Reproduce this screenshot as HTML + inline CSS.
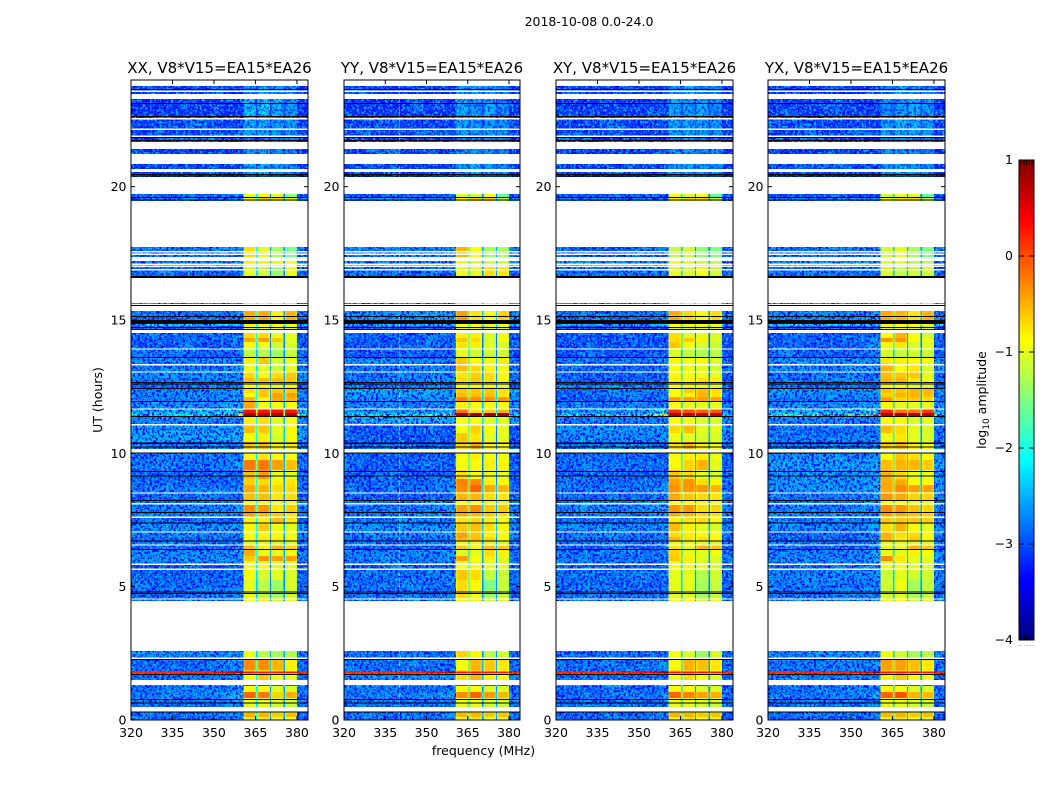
<!DOCTYPE html>
<html>
<head>
<meta charset="utf-8">
<title>2018-10-08 0.0-24.0</title>
<style>
html,body{margin:0;padding:0;background:#fff;}
svg{display:block;}
text{font-family:"DejaVu Sans","Liberation Sans",sans-serif;font-size:12.5px;fill:#000;}
</style>
</head>
<body>
<svg id="chart" xmlns="http://www.w3.org/2000/svg" width="1050" height="800" viewBox="0 0 1050 800">
<defs>
<filter id="speckle-dark" x="0" y="0" width="100%" height="100%" color-interpolation-filters="sRGB">
<feTurbulence type="fractalNoise" baseFrequency="0.42" numOctaves="2" seed="3"/>
<feColorMatrix type="matrix" values="0 0 0 0 0  0 0 0 0 0.02  0 0 0 0 1  7 0 0 0 -3.2"/>
</filter>
<filter id="speckle-light" x="0" y="0" width="100%" height="100%" color-interpolation-filters="sRGB">
<feTurbulence type="fractalNoise" baseFrequency="0.42" numOctaves="2" seed="11"/>
<feColorMatrix type="matrix" values="0 0 0 0 0  0 0 0 0 0.72  0 0 0 0 1  0 6 0 0 -3.1"/>
</filter>
<filter id="speckle-patch" x="0" y="0" width="100%" height="100%" color-interpolation-filters="sRGB">
<feTurbulence type="fractalNoise" baseFrequency="0.045 0.07" numOctaves="2" seed="7"/>
<feColorMatrix type="matrix" values="0 0 0 0 0  0 0 0 0 0.85  0 0 0 0 1  0 4 0 0 -2"/>
</filter>
<linearGradient id="jet-gradient" x1="0" y1="1" x2="0" y2="0"></linearGradient>
</defs>
<text x="589" y="26" text-anchor="middle">2018-10-08 0.0-24.0</text>
<text x="483.500" y="755" text-anchor="middle">frequency (MHz)</text>
<text transform="translate(102,400) rotate(-90)" text-anchor="middle">UT (hours)</text>
<text transform="translate(986,400) rotate(-90)" text-anchor="middle">log<tspan font-size="9" dy="3">10</tspan><tspan dy="-3"> amplitude</tspan></text>
</svg>
<script>
const N = null;
// Upper UT edge of each time row (hours); the last row ends at 0.
const utRowTop = [24,23.775,23.475,23.288,22.613,21.863,21.675,21.413,21.225,20.85,
20.663,20.55,20.363,19.725,19.594,19.463,17.738,17.363,17.213,16.95,
16.575,15.638,15.6,15.338,15,14.85,14.775,14.663,14.513,14.325,
14.175,13.95,13.613,13.35,13.088,12.825,12.675,12.45,12.263,12.113,
11.963,11.663,11.513,11.4,11.063,10.763,10.425,10.163,10.013,9.75,
9.375,9.038,8.813,8.55,8.25,8.063,7.8,7.613,7.35,7.088,
6.863,6.713,6.563,6.375,6.15,5.963,5.85,5.663,5.25,4.875,
4.575,4.463,2.588,2.325,2.25,1.875,1.819,1.763,1.725,1.5,
1.313,1.275,1.05,0.825,0.656,0.488,0.319,0.263,0.113];
// log10 amplitude per row: [off-band, band 1, band 2, band 3, band 4]; N = no data.
const xxRows = [
N,[-3,-2.5,-2.4,-2.5,-2.5],N,[-3.05,-2.3,-2.2,-2.4,-2.5],[-2.95,-2.4,-2.4,-2.5,-2.5],[-3.1,-2.7,-2.6,-2.7,-2.7],N,[-3,-2.5,-2.5,-2.6,-2.6],N,[-3,-2.4,-2.4,-2.5,-2.6],
N,[-3,-2.5,-2.4,-2.5,-2.6],N,[-2.8,-1,-.9,-1,-1.4],[-2.5,-.8,-.6,-.7,-1],N,[-2.6,-.7,-1,-1.3,-1.5],N,[-2.6,-.8,-.8,-.8,-.9],[-2.75,-1,-1.1,-1.4,-.95],
N,[-2.4,-.8,-.9,-1,-1.1],N,[-2.65,-.45,-.45,-.85,-.5],[-2.65,-.45,-.45,-.85,-.5],[-2,-.9,-.9,-.9,-.9],[-2.8,-.9,-.9,-.9,-1],N,[-2.75,-.7,-.7,-1,-1],[-2.8,-.45,-.4,-.6,-1],
[-2.8,-.85,-.9,-1.1,-1.05],[-2.7,-1.15,-1.2,-1.3,-1.15],[-2.5,-.8,-.6,-1.05,-.95],[-2.55,-.95,-1,-1.1,-1],[-2.5,-.7,-.9,-.7,-.6],[-2.6,-.55,-.55,-.55,-.6],[-2.7,-.9,-.85,-1,-.85],[-2.5,-.7,-.6,-.6,-.6],[-2.5,-.9,-.6,-.4,-.4],[-2.55,-.5,-.8,-.45,-.5],
[-2.45,-.45,-.9,-.9,-.9],[-2.2,.3,.3,.3,.3],[-1.9,.8,.7,.75,.8],[-2.45,-.8,-.7,-1,-.9],[-2.35,-.55,-.6,-1,-.85],[-2.3,-.85,-.8,-1.05,-.9],[-2.6,-.6,-.55,-.8,-.8],N,[-2.6,-.85,-.75,-.85,-.9],[-2.6,-.2,-.2,-.4,-.55],
[-2.7,-.55,-.4,-.95,-1],[-2.7,-.65,-.7,-.8,-.75],[-2.65,-.45,-.5,-.7,-.7],[-2.75,-.55,-.55,-.75,-.7],[-2.6,-.9,-.9,-1,-1],[-2.55,-.3,-.35,-.75,-.6],[-2.6,-.4,-.5,-.6,-.7],[-2.8,-.8,-.8,-.55,-.75],[-2.45,-.85,-.6,-.95,-1],[-2.5,-.9,-.85,-.85,-.9],
[-2.65,-.85,-.75,-.8,-.85],[-2.55,-1,-1,-1.05,-1.05],[-2.75,-.55,-.8,-.5,-.65],[-2.5,-.45,-.95,-1,-.95],[-2.45,-.6,-.35,-.4,-.4],[-2.55,-.95,-1,-1,-1],[-2.8,-.9,-.9,-1,-1],[-2.7,-.85,-1.05,-1,-1.05],[-2.7,-1,-1.2,-1.35,-1.05],[-2.65,-.95,-1.15,-1.3,-1.1],
[-2.7,-.9,-.8,-1.1,-.95],N,[-2.5,-.95,-1.2,-1.3,-1.25],[-2.7,-.85,-.85,-.6,-.8],[-2.7,-.3,-.3,-.5,-.8],[-2.6,-.6,-.7,-.7,-.85],[.3,.3,.3,.3,.3],[-2.5,-.3,-.3,-.5,-.5],[-2.6,-.85,-.6,-.95,-.95],N,
[-2.2,.3,.3,.35,.3],[-2.65,-.85,-.9,-1.05,-1.05],[-2.6,-.1,-.2,-.65,-.45],[-2.6,-.9,-.9,-1,-1.05],[-2.6,-1,-1,-1.1,-1.15],N,[-2.75,-.9,-.85,-1.05,-1],[-2.65,-.5,-.5,-.6,-.55],[-2.75,-.85,-.8,-.95,-.9]];
const yyRows = [
N,[-3,-2.5,-2.4,-2.5,-2.6],N,[-3.05,-2.4,-2.5,-2.4,-2.6],[-2.95,-2.45,-2.5,-2.5,-2.55],[-3.1,-2.7,-2.6,-2.7,-2.7],N,[-3,-2.55,-2.5,-2.6,-2.6],N,[-3,-2.5,-2.4,-2.5,-2.6],
N,[-3,-2.5,-2.4,-2.5,-2.6],N,[-2.85,-1,-1.1,-.9,-1.6],[-2.5,-.8,-.6,-.6,-1.2],N,[-2.55,-.5,-.9,-1.3,-1.3],N,[-2.5,-.85,-1,-1.1,-1.1],[-2.7,-.95,-1,-.7,-.75],
N,[-2.4,-.7,-.9,-1,-1.1],N,[-2.4,-.4,-.75,-.9,-.65],[-2.4,-.4,-.75,-.9,-.65],[-2.1,-.9,-.9,-.9,-.9],[-2.8,-.9,-.9,-.95,-1],N,[-2.75,-.8,-.8,-1,-.95],[-2.8,-.6,-.7,-1.1,-.9],
[-2.8,-.75,-.8,-1,-1.05],[-2.85,-1,-1.1,-1.1,-1.1],[-2.5,-.6,-.85,-.85,-.8],[-2.6,-.55,-.7,-.8,-.9],[-2.65,-.75,-.65,-.7,-.85],[-2.6,-.7,-.6,-.7,-.9],[-2.7,-.9,-.85,-.9,-1],[-2.3,-.6,-.6,-.6,-.7],[-2.35,-.55,-.55,-.55,-.75],[-2.5,-.25,-.3,-.35,-.35],
[-2.5,-.8,-.9,-.9,-.9],[-2.4,-.2,-.7,-.6,-.5],[-1.9,.85,.85,.85,.85],[-2.2,-.9,-.9,-1,-1],[-2.8,-.9,-.65,-.85,-1],[-2.8,-.6,-.75,-1,-1],[-2.7,-.65,-.45,-.8,-.9],N,[-2.8,-.9,-.8,-.9,-.95],[-2.8,-.9,-.85,-.8,-.85],
[-2.8,-.7,-.9,-.95,-1],[-2.75,-.25,-.3,-.8,-.85],[-2.7,-.3,-.1,-.45,-.5],[-2.8,-.5,-.5,-.7,-.75],[-2.6,-.9,-.9,-1,-1],[-2.6,-.4,-.3,-.6,-.6],[-2.6,-.45,-.5,-.6,-.7],[-2.6,-.75,-.7,-.8,-.9],[-2.4,-.6,-.55,-.7,-.85],[-2.5,-.4,-.6,-.8,-.85],
[-2.7,-.5,-.55,-.65,-.85],[-2.55,-1,-1,-1.05,-1.05],[-2.75,-.6,-.85,-.55,-.6],[-2.55,-1.05,-1,-.7,-.8],[-2.55,-.4,-.9,-.8,-1],[-2.6,-.95,-1,-1,-1],[-2.8,-.9,-.9,-1,-1],[-2.65,-.6,-.7,-1.15,-1.15],[-2.65,-.7,-.85,-1.5,-1.15],[-2.65,-.7,-.9,-1.35,-1.15],
[-2.7,-.8,-.8,-1.1,-1],N,[-2.65,-.65,-.85,-1.2,-1.1],[-2.7,-.85,-.7,-.7,-.85],[-2.65,-.9,-.5,-.6,-.75],[-2.6,-.7,-.6,-.7,-.85],[.3,.3,.3,.3,.3],[-2.5,-.4,-.3,-.5,-.5],[-2.5,-.7,-.5,-.8,-.9],N,
[-2.2,.3,.3,.35,.3],[-2.65,-.85,-.9,-1.05,-1.05],[-2.55,-.3,-.1,-.35,-.5],[-2.6,-.9,-.9,-1,-1.05],[-2.6,-1,-1,-1.1,-1.15],N,[-2.75,-.9,-.85,-1.05,-1],[-2.65,-.5,-.5,-.6,-.55],[-2.75,-.85,-.8,-.95,-.9]];
const xyRows = [
N,[-3,-2.5,-2.4,-2.5,-2.6],N,[-3,-2.4,-2.5,-2.4,-2.6],[-2.95,-2.45,-2.45,-2.5,-2.55],[-3.1,-2.7,-2.6,-2.7,-2.7],N,[-3,-2.55,-2.5,-2.6,-2.6],N,[-3,-2.5,-2.4,-2.5,-2.6],
N,[-3,-2.5,-2.4,-2.5,-2.6],N,[-2.85,-.9,-1,-.9,-1.6],[-2.5,-.8,-.7,-.7,-1.2],N,[-2.75,-1.2,-1.1,-1.4,-1.5],N,[-2.55,-.9,-1,-1.1,-1.2],[-2.7,-1,-1.05,-.9,-1.1],
N,[-2.4,-.85,-.9,-1,-1.1],N,[-2.65,-.45,-.7,-.85,-.7],[-2.65,-.45,-.7,-.85,-.7],[-2.1,-.9,-.9,-.9,-.9],[-2.85,-.9,-.95,-.95,-1],N,[-2.85,-.7,-1,-1,-1.05],[-2.85,-.7,-.6,-.8,-1.05],
[-2.85,-.6,-.9,-1.05,-1.1],[-2.85,-1.05,-1.15,-1.25,-1.2],[-2.6,-.85,-.9,-.85,-1.05],[-2.7,-.9,-.95,-1,-1.1],[-2.75,-.85,-.9,-.95,-1],[-2.8,-.8,-.85,-.7,-.8],[-2.55,-.9,-.9,-.95,-1],[-2.7,-.9,-.65,-.55,-.7],[-2.7,-.85,-.8,-.5,-.75],[-2.8,-.4,-.4,-.4,-.4],
[-2.6,-.9,-1,-1,-1],[-2.4,.15,0,-.1,-.05],[-1.9,.7,.65,.6,.65],[-2.55,-.9,-.9,-1.05,-1.05],[-2.4,-.7,-.55,-1,-1],[-2.5,-.95,-1,-1.05,-1.05],[-2.6,-.7,-.5,-.8,-.9],N,[-2.7,-.9,-.8,-.8,-.95],[-2.65,-.85,-.65,-.5,-1],
[-2.7,-.6,-.7,-1,-1.05],[-2.7,-.4,-.35,-.7,-.85],[-2.65,-.35,-.35,-.35,-.5],[-2.7,-.45,-.6,-.7,-.75],[-2.6,-.9,-.9,-1,-1],[-2.55,-.35,-.35,-.7,-.65],[-2.6,-.45,-.5,-.65,-.7],[-2.7,-.8,-.75,-.7,-.85],[-2.5,-.55,-.8,-1,-1.05],[-2.6,-.7,-.8,-.85,-.9],
[-2.75,-.5,-.75,-.7,-.85],[-2.6,-1,-1,-1.05,-1.05],[-2.8,-.75,-.95,-.5,-.6],[-2.6,-.65,-1,-1,-.9],[-2.6,-.6,-.8,-1,-1.05],[-2.6,-1,-1,-1.05,-1.05],[-2.8,-.95,-.95,-1,-1.05],[-2.65,-1,-1,-1.25,-1.1],[-2.7,-1,-1,-1.3,-1.15],[-2.65,-1,-1,-1.3,-1.15],
[-2.7,-.9,-.85,-1.1,-1],N,[-2.7,-.9,-1.05,-1.35,-1.05],[-2.7,-.85,-.8,-.7,-.85],[-2.7,-.85,-.5,-.55,-.75],[-2.6,-.75,-.65,-.7,-.85],[.3,.3,.3,.3,.3],[-2.5,-.4,-.3,-.5,-.5],[-2.6,-.9,-.7,-.9,-1],N,
[-2.2,.3,.3,.35,.3],[-2.7,-.85,-.9,-1.05,-1.05],[-2.7,-.1,-.25,-.4,-.45],[-2.65,-.9,-.9,-1,-1.05],[-2.65,-1,-1,-1.1,-1.15],N,[-2.75,-.9,-.85,-1.05,-1],[-2.7,-.5,-.5,-.6,-.55],[-2.75,-.85,-.8,-.95,-.9]];
const yxRows = [
N,[-3,-2.7,-2.3,-2.5,-2.6],N,[-3,-2.6,-2.5,-2.4,-2.5],[-2.95,-2.5,-2.4,-2.45,-2.5],[-3.1,-2.7,-2.6,-2.7,-2.7],N,[-3,-2.55,-2.5,-2.6,-2.6],N,[-3,-2.5,-2.4,-2.5,-2.6],
N,[-3,-2.5,-2.4,-2.5,-2.6],N,[-2.85,-1.1,-1,-1,-1.6],[-2.5,-.9,-.7,-.7,-1.2],N,[-2.6,-1.1,-1,-1.3,-1.5],N,[-2.5,-1,-1,-1.2,-1.2],[-2.7,-1.05,-1.2,-1.1,-1.1],
N,[-2.4,-.85,-.9,-1,-1.1],N,[-2.5,-.45,-.5,-.75,-.5],[-2.5,-.45,-.5,-.75,-.5],[-1.9,-.9,-.9,-.9,-.9],[-2.8,-.9,-.9,-.95,-1],N,[-2.75,-.9,-.5,-.9,-1.1],[-2.75,-.35,-.35,-.9,-.95],
[-2.75,-.85,-.75,-1.05,-1],[-2.75,-1.05,-1.15,-1.1,-1.1],[-2.4,-.75,-.8,-.85,-.85],[-2.45,-.5,-.85,-.75,-1.05],[-2.7,-.55,-.6,-.6,-1],[-2.65,-.5,-.5,-.75,-.9],[-2.7,-.85,-.9,-1,-1],[-2.4,-.55,-.6,-.5,-.5],[-2.45,-.65,-.5,-.5,-.55],[-2.6,-.4,-.65,-.6,-.7],
[-2.45,-.85,-1,-1,-1],[-2.2,.2,-.2,-.2,.1],[-1.5,.75,.75,.75,.75],[-2.5,-.85,-.85,-1.05,-1],[-2.6,-.55,-.7,-1,-1.05],[-2.6,-.95,-.75,-1,-1.05],[-2.6,-.6,-.5,-.8,-.9],N,[-2.45,-.85,-.6,-.7,-.85],[-2.35,-.55,-.5,-.5,-.6],
[-2.4,-.5,-.7,-.95,-.95],[-2.45,-.45,-.45,-.85,-.85],[-2.4,-.45,-.3,-.4,-.4],[-2.6,-.35,-.45,-.65,-.65],[-2.6,-.9,-.9,-1,-1],[-2.6,-.3,-.35,-.55,-.65],[-2.6,-.4,-.45,-.55,-.65],[-2.6,-.6,-.6,-.6,-.65],[-2.5,-.7,-.5,-.9,-1],[-2.7,-.5,-.7,-.7,-.85],
[-2.75,-.5,-.75,-.6,-.85],[-2.55,-1,-1,-1.05,-1.05],[-2.75,-.95,-.95,-.5,-.6],[-2.5,-1,-1,-.8,-.9],[-2.5,-.3,-.75,-1,-1],[-2.55,-1,-1,-1,-1.05],[-2.8,-.95,-.95,-1,-1.05],[-2.5,-1.15,-1,-1.1,-1.1],[-2.6,-1.1,-.95,-1.3,-1.15],[-2.6,-1.1,-1,-1.3,-1.15],
[-2.6,-.95,-.85,-1.1,-1],N,[-2.5,-.95,-1.1,-1.3,-1.2],[-2.6,-.85,-.8,-.7,-.85],[-2.6,-.4,-.4,-.55,-.75],[-2.6,-.6,-.6,-.7,-.85],[.3,.3,.3,.3,.3],[-2.5,-.3,-.3,-.5,-.5],[-2.6,-.8,-.6,-.9,-.95],N,
[-2.2,.3,.3,.35,.3],[-2.65,-.85,-.9,-1.05,-1.05],[-2.6,-.1,0,-.5,-.5],[-2.6,-.9,-.9,-1,-1.05],[-2.6,-1,-1,-1.1,-1.15],N,[-2.75,-.9,-.85,-1.05,-1],[-2.65,-.5,-.5,-.6,-.55],[-2.75,-.85,-.8,-.95,-.9]];
const panelNames = ["XX","YY","XY","YX"];
const baselineLabel = "V8*V15=EA15*EA26";
// Frequency channel groups (MHz) and how each reads the row values.
const freqEdges = [320,340,340.4,345,350,355,358,360.6,361.1,364.7,365.2,365.7,366.2,369.7,370.2,370.7,371.2,374.7,375.2,375.7,376.2,379.5,380,381,384];
const colBand = [-1,-1,-1,-1,-1,-1,-1,0,0,0,-2,1,1,1,-3,2,2,2,-4,3,3,3,-1,-1];
const colEdgeDrop = [0,0,0,0,0,0,0,.15,0,.15,0,.15,0,.15,0,.15,0,.15,0,.15,0,.15,0,0];
const colGlow = [0,0,0,.05,.2,.45,.8,0,0,0,0,0,0,0,0,0,0,0,0,0,0,0,.5,0];
const colRfi = [0,1,0,0,0,0,0,0,0,0,0,0,0,0,0,0,0,0,0,0,0,0,0,0];
const dividerDrop = [1.3,1.9,1.9];
const panelRfiBoost = [0,1.3,0,0];
// Flagged integrations (UT hours).
const blackLinesUT = [23.663,23.138,22.65,21.863,21.75,20.475,20.42,19.613,19.519,15.563,15.15,14.738,14.663,13.613,12.675,12.619,12.45,11.963,11.4,10.256,10.031,9.338,9.169,8.25,7.8,7.406,6.731,6.413,4.819,4.763,2.288,1.725,0.788,0.664,0.319];
const blackBandTops = [16.65,15,10.406];
const blackBandBottoms = [16.575,14.85,10.35];
const whiteLinesUT = [23.606,22.575,22.181,21.919,17.588,17.494,17.119,17.036,16.913,13.939,13.35,13.076,11.689,11.1,8.539,8.138,7.631,7.076,6.589,5.861,5.674,4.564,2.336];
const xTicks = [320,335,350,365,380];
const yTicks = [0,5,10,15,20];
const colorbarTicks = [-4,-3,-2,-1,0,1];

const NS = "http://www.w3.org/2000/svg";
const svg = document.getElementById("chart");
const panelRows = [xxRows,yyRows,xyRows,yxRows];
const panelLeft = [131,344,556,768];
const panelRight = [308,520,733,945];
const plotTop = 80, plotBottom = 720;

function xScale(p,mhz){ return panelLeft[p] + (mhz-320)*(panelRight[p]-panelLeft[p])/64; }
function yScale(ut){ return plotBottom - ut*(plotBottom-plotTop)/24; }
function clamp(v){ return Math.max(0,Math.min(1,v)); }
function jet(v){
  const x = clamp((v+4)/5);
  const r = clamp(Math.min(4*x-1.5,-4*x+4.5));
  const g = clamp(Math.min(4*x-0.5,-4*x+3.5));
  const b = clamp(Math.min(4*x+0.5,-4*x+2.5));
  return "rgb("+Math.round(r*255)+","+Math.round(g*255)+","+Math.round(b*255)+")";
}
function make(tag,attrs,parent){
  const el = document.createElementNS(NS,tag);
  for(const k in attrs){ el.setAttribute(k,attrs[k]); }
  parent.appendChild(el);
  return el;
}
function cellValue(p,row,c){
  const band = colBand[c];
  const bg = row[0];
  if(band >= 0){ return row[band+1]-colEdgeDrop[c]; }
  if(band < -1){
    const d = -band-2;
    const m = (row[d+1]+row[d+2])/2;
    return Math.max(bg,m-dividerDrop[d]);
  }
  return bg - 0.12 + colRfi[c]*panelRfiBoost[p] + colGlow[c]*Math.max(0,row[1]+0.6);
}
function drawRowCells(p,i,parent){
  const row = panelRows[p][i];
  const bottom = i+1<utRowTop.length ? utRowTop[i+1] : 0;
  const y0 = yScale(utRowTop[i]), y1 = yScale(bottom);
  for(let c=0;c<colBand.length;c++){
    const x0 = xScale(p,freqEdges[c]), x1 = xScale(p,freqEdges[c+1]);
    const cell = make("rect",{x:x0.toFixed(2),y:y0.toFixed(2),width:(x1-x0).toFixed(2),height:(y1-y0).toFixed(2),fill:jet(cellValue(p,row,c))},parent);
    
    
  }
}

panelNames.forEach(function(name,p){
  const key = name.toLowerCase();
  const g = make("g",{},svg);
  
  
  const L = panelLeft[p], R = panelRight[p];
  const cells = make("g",{"shape-rendering":"crispEdges"},g);
  
  
  const rows = panelRows[p];
  utRowTop.forEach(function(top,i){
    if(rows[i]){ drawRowCells(p,i,cells); }
  });
  // noise texture on off-band channels
  const noise = make("g",{},g);
  
  
  const leftW = xScale(p,360.6)-L, rightX = xScale(p,380.2);
  const patch = make("rect",{x:L,y:plotTop,width:leftW,height:plotBottom-plotTop,filter:"url(#speckle-patch)",opacity:.55},noise);
  patch.setAttribute("transform","translate("+0+","+0+")");
  ["speckle-dark","speckle-light"].forEach(function(f){
    make("rect",{x:L,y:plotTop,width:leftW,height:plotBottom-plotTop,filter:"url(#"+f+")"},noise);
    make("rect",{x:rightX,y:plotTop,width:R-rightX,height:plotBottom-plotTop,filter:"url(#"+f+")"},noise);
    make("rect",{x:L+leftW,y:plotTop,width:rightX-L-leftW,height:yScale(20.363)-plotTop,filter:"url(#"+f+")",opacity:.7},noise);
  });
  // full-width hot rows stay clean above the noise
  const hot = make("g",{"shape-rendering":"crispEdges"},g);
  
  
  utRowTop.forEach(function(top,i){
    if(rows[i] && rows[i][0] > -1){ drawRowCells(p,i,hot); }
  });
  // empty rows
  const flags = make("g",{"shape-rendering":"crispEdges"},g);
  
  
  utRowTop.forEach(function(top,i){
    if(rows[i]){ return; }
    const bottom = i+1<utRowTop.length ? utRowTop[i+1] : 0;
    const gap = make("rect",{x:L,y:yScale(top),width:R-L,height:yScale(bottom)-yScale(top),fill:"#fff"},flags);
    
    
  });
  whiteLinesUT.forEach(function(ut){
    const line = make("rect",{x:L,y:yScale(ut),width:R-L,height:1.4,fill:"#fff"},flags);
    
    
  });
  blackLinesUT.forEach(function(ut){
    const line = make("rect",{x:L,y:yScale(ut),width:R-L,height:1,fill:"#000"},flags);
    
    
  });
  blackBandTops.forEach(function(ut,i){
    const band = make("rect",{x:L,y:yScale(ut),width:R-L,height:yScale(blackBandBottoms[i])-yScale(ut),fill:"#000"},flags);
    
    
  });
  // frame
  const frame = make("rect",{x:L,y:plotTop,width:R-L,height:plotBottom-plotTop,fill:"none",stroke:"#000","stroke-width":1},g);
  
  
  // ticks + labels
  xTicks.forEach(function(t){
    const x = xScale(p,t);
    make("line",{x1:x,x2:x,y1:plotBottom,y2:plotBottom-4,stroke:"#000","stroke-width":1},g);
    make("line",{x1:x,x2:x,y1:plotTop,y2:plotTop+4,stroke:"#000","stroke-width":1},g);
    const label = make("text",{x:x,y:plotBottom+17,"text-anchor":"middle"},g);
    
    
    label.textContent = t;
  });
  yTicks.forEach(function(t){
    const y = yScale(t);
    make("line",{x1:L,x2:L+4,y1:y,y2:y,stroke:"#000","stroke-width":1},g);
    make("line",{x1:R,x2:R-4,y1:y,y2:y,stroke:"#000","stroke-width":1},g);
    const label = make("text",{x:L-4.5,y:y+4.5,"text-anchor":"end"},g);
    
    
    label.textContent = t;
  });
  const title = make("text",{x:(L+R)/2,y:73,"text-anchor":"middle","style":"font-size:15px"},g);
  
  
  title.textContent = name+", "+baselineLabel;
});

// colorbar
(function(){
  const cbL = 1019, cbR = 1034, cbT = 160, cbB = 640;
  function cbY(v){ return cbB - (v+4)*(cbB-cbT)/5; }
  const grad = document.getElementById("jet-gradient");
  for(let i=0;i<=40;i++){
    make("stop",{offset:(i/40),"stop-color":jet(-4+5*i/40)},grad);
  }
  const g = make("g",{},svg);
  
  
  const bar = make("rect",{x:cbL,y:cbT,width:cbR-cbL,height:cbB-cbT,fill:"url(#jet-gradient)"},g);
  
  
  for(let i=1;i<=5;i++){
    const x = cbL+i*2.6;
    make("line",{x1:x,x2:x,y1:cbT,y2:cbT+5,stroke:"#000","stroke-width":.8},g);
    make("line",{x1:x,x2:x,y1:cbB,y2:cbB-5,stroke:"#000","stroke-width":.8},g);
  }
  colorbarTicks.forEach(function(v){
    const y = cbY(v);
    if(v>-4 && v<1){
      make("line",{x1:cbL,x2:cbL+5,y1:y,y2:y,stroke:"#000","stroke-width":1},g);
      make("line",{x1:cbR,x2:cbR-5,y1:y,y2:y,stroke:"#000","stroke-width":1},g);
    }
    const label = make("text",{x:cbL-6,y:y+4,"text-anchor":"end"},g);
    
    
    label.textContent = (v<0?"\u2212":"")+Math.abs(v);
  });
  make("rect",{x:cbL,y:cbT,width:cbR-cbL,height:cbB-cbT,fill:"none",stroke:"#000","stroke-width":1},g);
  for(let i=0;i<6;i++){
    make("rect",{x:1018+i*3,y:645,width:1,height:1,fill:"#aaa"},g);
  }
})();
</script>
</body>
</html>
